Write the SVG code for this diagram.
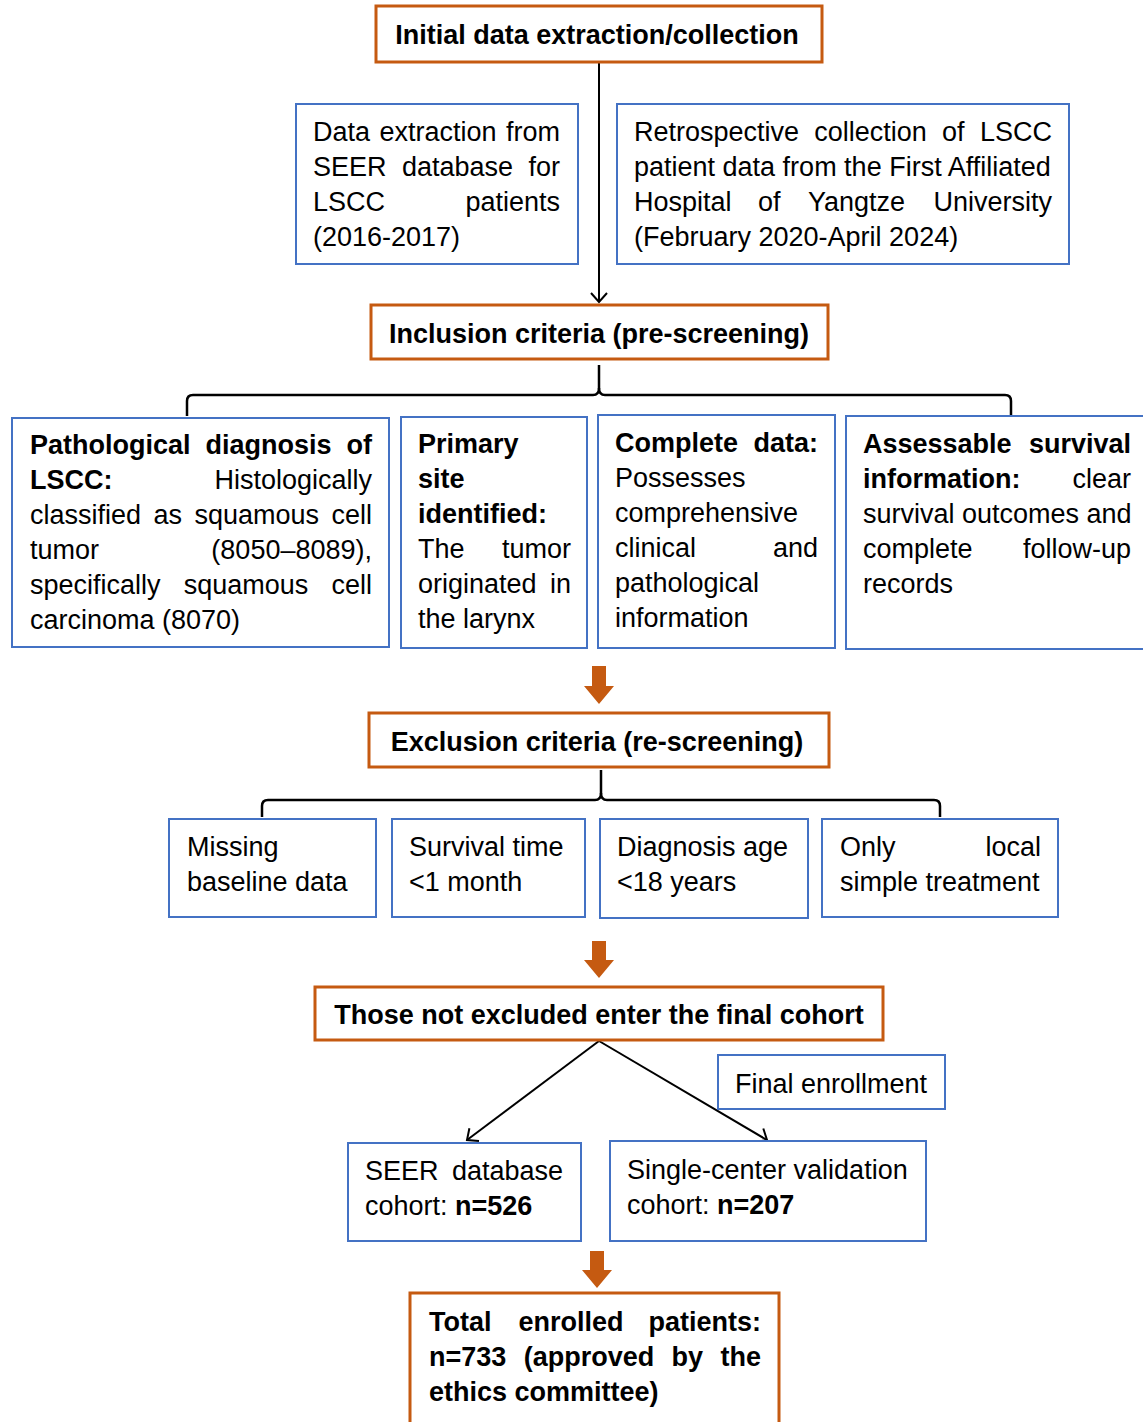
<svg xmlns="http://www.w3.org/2000/svg" width="1143" height="1422" viewBox="0 0 1143 1422">
<defs>
<style>
text{font-family:"Liberation Sans",Arial,sans-serif;font-size:27px;fill:#000}
.b{font-weight:bold}
.c{text-anchor:middle}
.e{text-anchor:end}
.o{fill:#fff;stroke:#C55A11;stroke-width:3}
.u{fill:#fff;stroke:#4472C4;stroke-width:2}
.ln{fill:none;stroke:#000;stroke-width:2}
.br{fill:none;stroke:#000;stroke-width:2.5}
.fa{fill:#C55A11}
</style>
<marker id="ah" markerWidth="20" markerHeight="20" refX="10" refY="10" orient="auto" markerUnits="userSpaceOnUse">
<path d="M1,2 L10,10 L1,18" fill="none" stroke="#000" stroke-width="2"/>
</marker>
</defs>
<rect width="1143" height="1422" fill="#fff"/>

<g id="connectors">
<line class="ln" x1="599" y1="62" x2="599" y2="302" marker-end="url(#ah)"/>
<path class="br" d="M599,365 L599,388 Q599,395 593,395 L193,395 Q187,395 187,401 L187,416"/>
<path class="br" d="M599,388 Q599,395 605,395 L1005,395 Q1011,395 1011,401 L1011,416"/>
<path class="fa" d="M592,666 H606 V686 H614 L599,704 L584,686 H592 Z"/>
<path class="br" d="M601,770 L601,793 Q601,800 595,800 L268,800 Q262,800 262,806 L262,817"/>
<path class="br" d="M601,793 Q601,800 607,800 L934,800 Q940,800 940,806 L940,817"/>
<path class="fa" d="M592,941 H606 V960 H614 L599,978 L584,960 H592 Z"/>
<line class="ln" x1="599" y1="1041" x2="467" y2="1140" marker-end="url(#ah)"/>
<line class="ln" x1="599" y1="1041" x2="767" y2="1140" marker-end="url(#ah)"/>
<path class="fa" d="M590,1251 H604 V1270 H612 L597,1288 L582,1270 H590 Z"/>
</g>

<g id="initial">
<rect class="o" x="376" y="6" width="446" height="56"/>
<text class="b c" x="597" y="44">Initial data extraction/collection</text>
</g>

<g id="seer-source">
<rect class="u" x="296" y="104" width="282" height="160"/>
<text y="141"><tspan x="313">Data</tspan><tspan x="379.5">extraction</tspan><tspan x="560" text-anchor="end">from</tspan></text>
<text y="176"><tspan x="313">SEER</tspan><tspan x="402">database</tspan><tspan x="560" text-anchor="end">for</tspan></text>
<text y="211"><tspan x="313">LSCC</tspan><tspan x="560" text-anchor="end">patients</tspan></text>
<text x="313" y="246">(2016-2017)</text>
</g>

<g id="hospital-source">
<rect class="u" x="617" y="104" width="452" height="160"/>
<text y="141"><tspan x="634">Retrospective</tspan><tspan x="814.3">collection</tspan><tspan x="942.1">of</tspan><tspan x="1052" text-anchor="end">LSCC</tspan></text>
<text x="634" y="176">patient data from the First Affiliated</text>
<text y="211"><tspan x="634">Hospital</tspan><tspan x="758">of</tspan><tspan x="808">Yangtze</tspan><tspan x="1052" text-anchor="end">University</tspan></text>
<text x="634" y="246">(February 2020-April 2024)</text>
</g>

<g id="inclusion">
<rect class="o" x="371" y="305" width="457" height="54"/>
<text class="b c" x="599" y="343">Inclusion criteria (pre-screening)</text>
</g>

<g id="pathological">
<rect class="u" x="12" y="418" width="377" height="229"/>
<text class="b" y="454"><tspan x="30">Pathological</tspan><tspan x="205.5">diagnosis</tspan><tspan x="372" text-anchor="end">of</tspan></text>
<text y="489"><tspan x="30" class="b">LSCC:</tspan><tspan x="372" text-anchor="end">Histologically</tspan></text>
<text y="524"><tspan x="30">classified</tspan><tspan x="153.5">as</tspan><tspan x="194.5">squamous</tspan><tspan x="372" text-anchor="end">cell</tspan></text>
<text y="559"><tspan x="30">tumor</tspan><tspan x="372" text-anchor="end">(8050–8089),</tspan></text>
<text y="594"><tspan x="30">specifically</tspan><tspan x="183.7">squamous</tspan><tspan x="372" text-anchor="end">cell</tspan></text>
<text x="30" y="629">carcinoma (8070)</text>
</g>

<g id="primary-site">
<rect class="u" x="401" y="417" width="186" height="231"/>
<text class="b" x="418" y="453">Primary</text>
<text class="b" x="418" y="488">site</text>
<text class="b" x="418" y="523">identified:</text>
<text y="558"><tspan x="418">The</tspan><tspan x="571" text-anchor="end">tumor</tspan></text>
<text y="593"><tspan x="418">originated</tspan><tspan x="571" text-anchor="end">in</tspan></text>
<text x="418" y="628">the larynx</text>
</g>

<g id="complete-data">
<rect class="u" x="598" y="415" width="237" height="233"/>
<text class="b" y="452"><tspan x="615">Complete</tspan><tspan x="818" text-anchor="end">data:</tspan></text>
<text x="615" y="487">Possesses</text>
<text x="615" y="522">comprehensive</text>
<text y="557"><tspan x="615">clinical</tspan><tspan x="818" text-anchor="end">and</tspan></text>
<text x="615" y="592">pathological</text>
<text x="615" y="627">information</text>
</g>

<g id="survival-info">
<rect class="u" x="846" y="416" width="300" height="233"/>
<text class="b" y="453"><tspan x="863">Assessable</tspan><tspan x="1131" text-anchor="end">survival</tspan></text>
<text y="488"><tspan x="863" class="b">information:</tspan><tspan x="1131" text-anchor="end">clear</tspan></text>
<text x="863" y="523">survival outcomes and</text>
<text y="558"><tspan x="863">complete</tspan><tspan x="1131" text-anchor="end">follow-up</tspan></text>
<text x="863" y="593">records</text>
</g>

<g id="exclusion">
<rect class="o" x="369" y="713" width="460" height="54"/>
<text class="b c" x="597" y="751">Exclusion criteria (re-screening)</text>
</g>

<g id="missing">
<rect class="u" x="169" y="819" width="207" height="98"/>
<text x="187" y="856">Missing</text>
<text x="187" y="891">baseline data</text>
</g>

<g id="survival-time">
<rect class="u" x="392" y="819" width="193" height="98"/>
<text x="409" y="856">Survival time</text>
<text x="409" y="891">&lt;1 month</text>
</g>

<g id="diagnosis-age">
<rect class="u" x="600" y="819" width="208" height="99"/>
<text x="617" y="856">Diagnosis age</text>
<text x="617" y="891">&lt;18 years</text>
</g>

<g id="local-treatment">
<rect class="u" x="822" y="819" width="236" height="98"/>
<text y="856"><tspan x="840">Only</tspan><tspan x="1041" text-anchor="end">local</tspan></text>
<text x="840" y="891">simple treatment</text>
</g>

<g id="final-cohort">
<rect class="o" x="315" y="987" width="568" height="53"/>
<text class="b c" x="599" y="1024">Those not excluded enter the final cohort</text>
</g>

<g id="final-enrollment">
<rect class="u" x="718" y="1055" width="227" height="54"/>
<text class="c" x="831" y="1093">Final enrollment</text>
</g>

<g id="seer-cohort">
<rect class="u" x="348" y="1143" width="233" height="98"/>
<text y="1180"><tspan x="365">SEER</tspan><tspan x="563" text-anchor="end">database</tspan></text>
<text x="365" y="1215">cohort: <tspan class="b">n=526</tspan></text>
</g>

<g id="validation-cohort">
<rect class="u" x="610" y="1141" width="316" height="100"/>
<text x="627" y="1179">Single-center validation</text>
<text x="627" y="1214">cohort: <tspan class="b">n=207</tspan></text>
</g>

<g id="total">
<rect class="o" x="410" y="1293" width="369" height="140"/>
<text class="b" y="1331"><tspan x="429">Total</tspan><tspan x="518.5">enrolled</tspan><tspan x="761" text-anchor="end">patients:</tspan></text>
<text class="b" y="1366"><tspan x="429">n=733</tspan><tspan x="523.7">(approved</tspan><tspan x="671.6">by</tspan><tspan x="761" text-anchor="end">the</tspan></text>
<text class="b" x="429" y="1401">ethics committee)</text>
</g>
</svg>
